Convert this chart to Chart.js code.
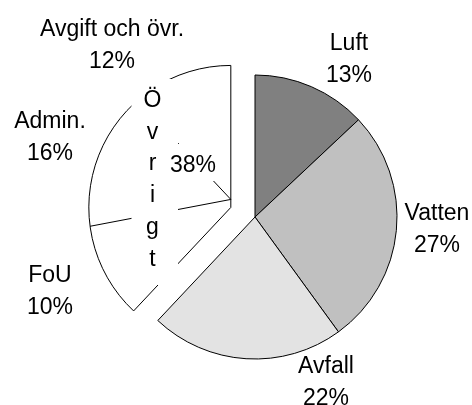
<!DOCTYPE html>
<html>
<head>
<meta charset="utf-8">
<script src="https://cdn.jsdelivr.net/npm/chart.js@4"></script>
<style>
  html, body { margin: 0; padding: 0; background: #fff; }
</style>
</head>
<body>
<canvas id="pieChart" width="472" height="405"></canvas>
<script>
// data
const categories = ["Luft", "Vatten", "Avfall", "Övrigt"];
const shares = [13, 27, 22, 38];
const subCategories = ["FoU", "Admin.", "Avgift och övr."];
const subShares = [10, 16, 12];

const colors = ["#808080", "#c0c0c0", "#e3e3e3", "#ffffff"];
const FONT = '23px "Liberation Sans", Arial, sans-serif';
const LINE_H = 32;
const EXPLODE = 26;     // how far Övrigt is pulled out
const SUB_ORIGIN = 8;   // sub lines meet the straight edge a bit above the tip

// text anchors: centre x, first baseline y
const mainLabelAt = [[349, 50], [437, 220], [326, 373]];
const subLabelAt = [[50, 282], [50, 128], [112, 36]];

const explodePlugin = {
  id: "explode",
  afterDatasetUpdate(chart) {
    const arc = chart.getDatasetMeta(0).data[3];
    const mid = (arc.startAngle + arc.endAngle) / 2;
    arc.x += Math.cos(mid) * EXPLODE;
    arc.y += Math.sin(mid) * EXPLODE;
  }
};

const overlayPlugin = {
  id: "overlay",
  afterDatasetsDraw(chart) {
    const ctx = chart.ctx;
    const arc = chart.getDatasetMeta(0).data[3];
    const r = arc.outerRadius;
    const ox = arc.x + Math.cos(arc.endAngle) * SUB_ORIGIN;
    const oy = arc.y + Math.sin(arc.endAngle) * SUB_ORIGIN;
    const total = subShares.reduce((a, b) => a + b, 0);
    const span = arc.endAngle - arc.startAngle;

    ctx.save();
    ctx.strokeStyle = "#000";
    ctx.lineWidth = 1;
    let a = arc.startAngle;
    for (let i = 0; i < subShares.length - 1; i++) {
      a += span * subShares[i] / total;
      const dx = Math.cos(a), dy = Math.sin(a);
      const px = ox - arc.x, py = oy - arc.y;
      const b = px * dx + py * dy;
      const t = -b + Math.sqrt(b * b - (px * px + py * py - r * r));
      ctx.beginPath();
      ctx.moveTo(ox, oy);
      ctx.lineTo(ox + dx * t, oy + dy * t);
      ctx.stroke();
    }

    // white label boxes inside Övrigt
    ctx.fillStyle = "#fff";
    ctx.fillRect(131.5, 79, 46.5, 206);
    ctx.fillRect(166, 144, 55, 37);

    ctx.fillStyle = "#000";
    ctx.font = FONT;
    ctx.textAlign = "center";
    ctx.textBaseline = "alphabetic";
    [...categories[3]].forEach((ch, i) => ctx.fillText(ch, 152.5, 107 + i * 31.7));
    ctx.fillText(shares[3] + "%", 193, 171.5);

    for (let i = 0; i < 3; i++) {
      const [x, y] = mainLabelAt[i];
      ctx.fillText(categories[i], x, y);
      ctx.fillText(shares[i] + "%", x, y + LINE_H);
    }
    subCategories.forEach((name, i) => {
      const [x, y] = subLabelAt[i];
      ctx.fillText(name, x, y);
      ctx.fillText(subShares[i] + "%", x, y + LINE_H);
    });
    ctx.restore();
  }
};

new Chart(document.getElementById("pieChart"), {
  type: "pie",
  data: {
    labels: categories,
    datasets: [{
      data: shares,
      backgroundColor: colors,
      borderColor: "#000",
      borderWidth: 1,
      borderJoinStyle: "miter"
    }]
  },
  options: {
    responsive: false,
    animation: false,
    devicePixelRatio: 1,
    events: [],
    radius: 142,
    layout: { padding: { left: 38, top: 29, right: 0, bottom: 0 } },
    plugins: {
      legend: { display: false },
      tooltip: { enabled: false }
    }
  },
  plugins: [explodePlugin, overlayPlugin]
});
</script>
</body>
</html>
